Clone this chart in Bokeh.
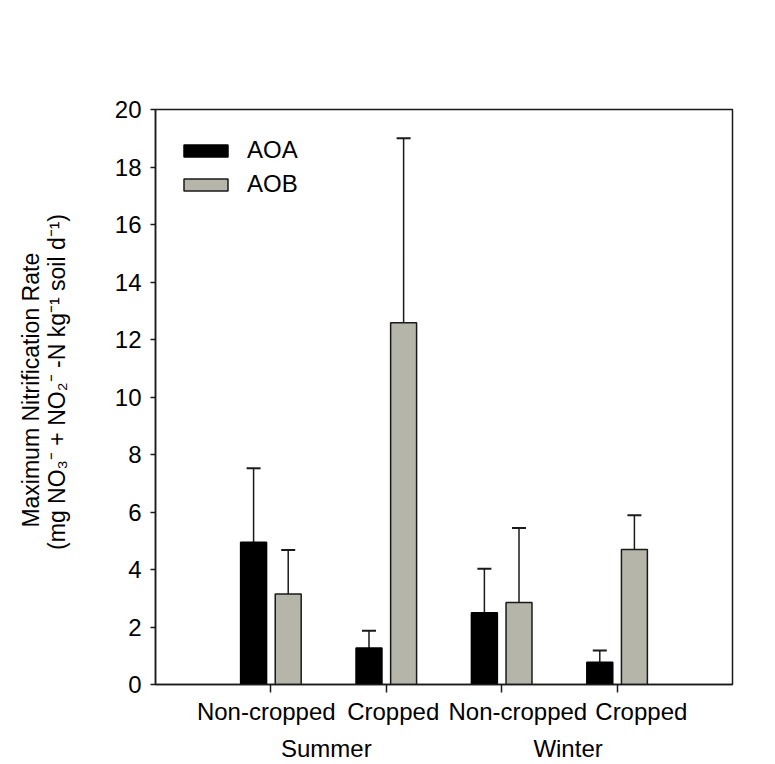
from math import pi

from bokeh.plotting import figure
from bokeh.layouts import row
from bokeh.models import (Range1d, FixedTicker, Legend, LegendItem, LinearAxis,
                          Whisker, TeeHead, ColumnDataSource)
from bokeh.core.properties import value
from bokeh.embed import file_html
from bokeh.resources import INLINE

# Treatments along the x axis, grouped by season
treatments = ["Non-cropped", "Cropped", "Non-cropped", "Cropped"]
seasons = ["Summer", "Winter"]
season_members = [[0, 1], [2, 3]]

# Maximum nitrification rate (mean and upper error) per treatment
aoa_mean = [4.95, 1.27, 2.50, 0.77]
aoa_err = [2.57, 0.60, 1.53, 0.41]
aob_mean = [3.15, 12.58, 2.85, 4.70]
aob_err = [1.53, 6.42, 2.59, 1.19]

y_ticks = [0, 2, 4, 6, 8, 10, 12, 14, 16, 18, 20]

y_title = ["Maximum Nitrification Rate",
           "(mg NO\u2083\u207b + NO\u2082\u207b -N kg\u207b\u00b9 soil d\u207b\u00b9)"]

FONT = "Liberation Sans"
FS = "24px"
TITLE_FS = "23px"
AOB_FILL = "#b5b5aa"
LINE = "#1a1a1a"

W, H = 775, 764
TITLE_W = 80

positions = [i + 1 for i in range(len(treatments))]
offset = 0.15
bar_w = 0.225
# the category names are typeset as one evenly spaced line, so they drift
# slightly right of their tick marks
treatment_nudge = [-0.04, 0.06, 0.14, 0.21]
season_nudge = [-0.02, 0.075]

# ---- y axis title strip (pixel coordinates) --------------------------------
t = figure(width=TITLE_W, height=H, output_backend="svg", toolbar_location=None,
           x_range=Range1d(0, TITLE_W), y_range=Range1d(0, H),
           x_axis_type=None, y_axis_type=None,
           min_border=0, min_border_left=0, min_border_right=0,
           min_border_top=0, min_border_bottom=0)
t.outline_line_color = None
t.grid.visible = False
t.background_fill_color = "white"
t.border_fill_color = "white"
t.text(x=[30, 56], y=[H - 373, H - 362], text=y_title, angle=pi / 2,
       text_align="center", text_baseline="middle",
       text_font=value(FONT), text_font_size=TITLE_FS, text_color="black")

# ---- main chart ------------------------------------------------------------
p = figure(width=W - TITLE_W, height=H, output_backend="svg", toolbar_location=None,
           x_range=Range1d(0, len(treatments) + 1), y_range=Range1d(0, 20),
           min_border_left=155 - TITLE_W, min_border_right=43,
           min_border_top=109, min_border_bottom=78)

p.background_fill_color = "white"
p.border_fill_color = "white"
p.xgrid.visible = False
p.ygrid.visible = False
p.outline_line_color = LINE
p.outline_line_width = 1.5
p.outline_line_alpha = 1.0

# x axis: tick marks at the bar groups (minor ticks), names at their text centres
label_x = [x + d for x, d in zip(positions, treatment_nudge)]
p.xaxis.ticker = FixedTicker(ticks=label_x, minor_ticks=positions)
p.xaxis.major_label_overrides = {x: name for x, name in zip(label_x, treatments)}
p.xaxis.major_tick_out = 0
p.xaxis.major_tick_in = 0
p.xaxis.minor_tick_out = 8
p.xaxis.minor_tick_in = 0
p.xaxis.minor_tick_line_color = LINE
p.xaxis.minor_tick_line_width = 1.5
p.xaxis.major_label_standoff = 5

p.yaxis.ticker = FixedTicker(ticks=y_ticks)
p.yaxis.major_tick_out = 5
p.yaxis.major_tick_in = 0
p.yaxis.minor_tick_line_color = None
p.yaxis.major_label_standoff = 9

for ax in (p.xaxis, p.yaxis):
    ax.axis_line_color = LINE
    ax.axis_line_width = 1.5
    ax.major_tick_line_color = LINE
    ax.major_tick_line_width = 1.5
    ax.major_label_text_font = FONT
    ax.major_label_text_font_size = FS
    ax.major_label_text_color = "black"

# Season names on a second, bare axis under the treatment labels
season_x = [sum(positions[m] for m in members) / len(members) + d
            for members, d in zip(season_members, season_nudge)]
season_axis = LinearAxis(ticker=FixedTicker(ticks=season_x),
                         major_label_overrides={c: s for c, s in zip(season_x, seasons)},
                         axis_line_color=None, major_tick_line_color=None,
                         minor_tick_line_color=None, major_tick_out=0, major_tick_in=0,
                         major_label_standoff=7,
                         major_label_text_font=FONT, major_label_text_font_size=FS,
                         major_label_text_color="black")
p.add_layout(season_axis, "below")

# Bars
aoa_x = [x - offset for x in positions]
aob_x = [x + offset for x in positions]

r_aoa = p.vbar(x=aoa_x, top=aoa_mean, bottom=0, width=bar_w,
               fill_color="black", line_color="black", line_width=1.5)
r_aob = p.vbar(x=aob_x, top=aob_mean, bottom=0, width=bar_w,
               fill_color=AOB_FILL, line_color=LINE, line_width=1.5)

# Upper error bars
for xs, means, errs in ((aoa_x, aoa_mean, aoa_err), (aob_x, aob_mean, aob_err)):
    src = ColumnDataSource(data=dict(
        x=xs, lower=means, upper=[m + e for m, e in zip(means, errs)]))
    p.add_layout(Whisker(source=src, base="x", lower="lower", upper="upper",
                         dimension="height", line_color=LINE, line_width=1.5,
                         lower_head=None,
                         upper_head=TeeHead(size=14, line_color=LINE, line_width=2)))

# Legend
legend = Legend(items=[LegendItem(label="AOA", renderers=[r_aoa]),
                       LegendItem(label="AOB", renderers=[r_aob])],
                location=(23, 486), orientation="vertical",
                glyph_width=55, glyph_height=15, label_standoff=14,
                spacing=6, padding=0, margin=0,
                label_text_font=FONT, label_text_font_size=FS,
                label_text_color="black",
                border_line_alpha=0, background_fill_alpha=0)
p.add_layout(legend)

layout = row(t, p, spacing=0)
open("out.html", "w").write(file_html(layout, INLINE))
